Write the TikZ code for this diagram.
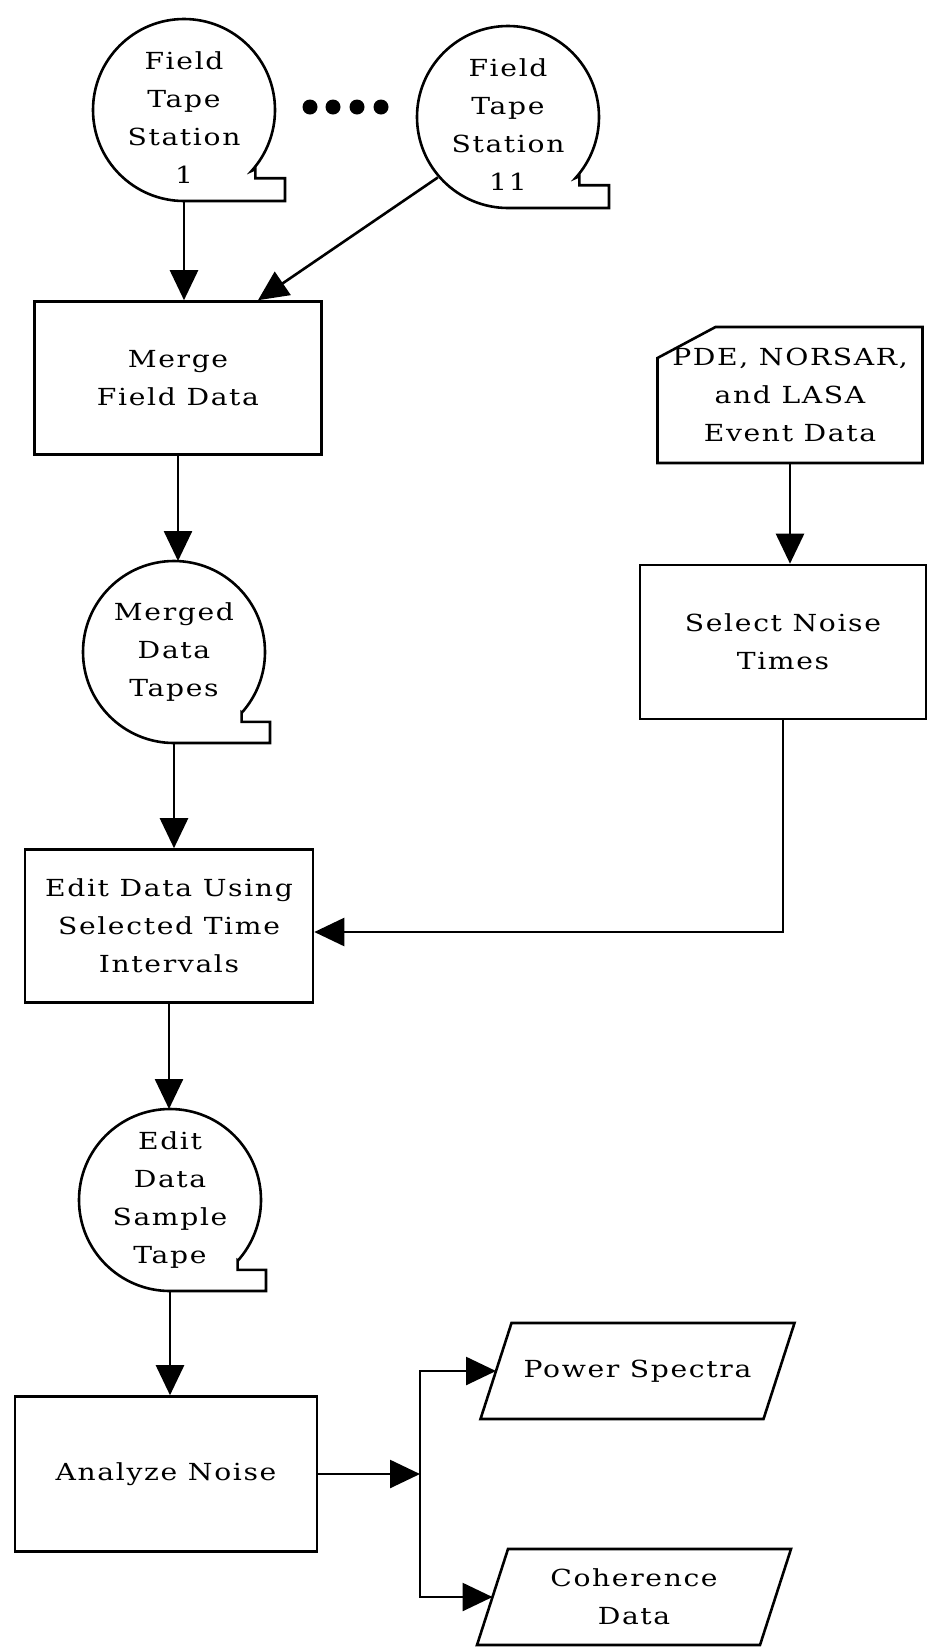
\documentclass[tikz,border=0pt]{standalone}
\usepackage{fontspec}
\setmainfont{DejaVu Serif}[FakeStretch=1.2, LetterSpace=7]
\usetikzlibrary{arrows.meta,calc,positioning,shapes.geometric}

\tikzset{
  base/.style={font=\fontsize{23.5}{38}\selectfont, align=center, line width=2.6pt},
  proc/.style={base, draw, rectangle, minimum width=288pt, minimum height=153pt, inner sep=0pt},
  tape/.style={base, circle, minimum size=182pt, inner sep=0pt, outer sep=0pt},
  card/.style={base, rectangle, minimum width=265pt, minimum height=136pt, inner sep=0pt, outer sep=0pt},
  outdata/.style={base, rectangle, minimum width=283pt, minimum height=96pt, inner sep=0pt, outer sep=0pt},
  flow/.style={line width=2.6pt, -{Triangle[length=30pt,width=28pt]}},
}

% outline of a magnetic tape symbol round a tape node
\newcommand{\tapeoutline}[1]{%
  \draw[line width=2.6pt] (#1.-42) -- ++(0,9) -| ([xshift=5pt]#1.east |- #1.south)
    -- (#1.south) arc[start angle=270, end angle=-42, radius=91pt] -- cycle;}
% outline of a slanted output symbol
\newcommand{\slantoutline}[1]{%
  \draw[line width=2.6pt] ([xshift=15.5pt]#1.north west) -- ([xshift=15.5pt]#1.north east)
    -- ([xshift=-15.5pt]#1.south east) -- ([xshift=-15.5pt]#1.south west) -- cycle;}

\begin{document}
\begin{tikzpicture}[x=1pt,y=-1pt]
  \useasboundingbox (0,0) rectangle (928,1647);

  % field tapes
  \node[tape] (t1) at (184,105) {\mbox{}\\[4pt]Field\\Tape\\Station\\1};
  \tapeoutline{t1}
  \foreach \x in {310,333,357,381}
    \fill (\x,107) circle[radius=7.5pt];
  \node[tape] (t11) at (508,112) {\mbox{}\\[4pt]Field\\Tape\\Station\\11};
  \tapeoutline{t11}

  % left column
  \node[proc, minimum width=287pt] (merge) at (178,378) {Merge\\Field Data};
  \node[tape] (merged) at (174,652) {Merged\\Data\\Tapes};
  \tapeoutline{merged}
  \node[proc] (edit) at (169,926) {Edit Data Using\\Selected Time\\Intervals};
  \node[tape] (sample) at (170,1200) {Edit\\Data\\Sample\\Tape};
  \tapeoutline{sample}
  \node[proc, minimum width=302pt, minimum height=155pt] (an) at (166,1474) {Analyze Noise};

  % event data card and noise times
  \node[card] (pde) at (790,395) {PDE, NORSAR,\\and LASA\\Event Data};
  \draw[line width=2.6pt] (pde.south west) -- (pde.south east) -- (pde.north east)
    -- ([xshift=58pt]pde.north west) -- ([yshift=-31pt]pde.north west) -- cycle;
  \node[proc, minimum width=286pt, minimum height=154pt] (sel) at (783,642) {Select Noise\\Times};

  % outputs
  \node[outdata] (ps) at (637.5,1371) {Power Spectra};
  \slantoutline{ps}
  \node[outdata] (coh) at (634,1597) {Coherence\\Data};
  \slantoutline{coh}
  \coordinate (split) at (420,1474);

  % connectors
  \draw[flow] (t1.south) -- (t1.south |- merge.north);
  \draw[flow] (t11.-137) -- ([xshift=80pt]merge.north);
  \draw[flow] (merge.south) -- (merge.south |- merged.north);
  \draw[flow] (merged.south) -- (merged.south |- edit.north);
  \draw[flow] (pde.south) -- (pde.south |- sel.north);
  \draw[flow] (sel.south) |- ([yshift=-6pt]edit.east);
  \draw[flow] (edit.south) -- (edit.south |- sample.north);
  \draw[flow] (sample.south) -- (sample.south |- an.north);
  \draw[flow] (an.east) -- (split);
  \draw[flow] (split) |- (ps.west);
  \draw[flow] (split) |- (coh.west);
\end{tikzpicture}
\end{document}
